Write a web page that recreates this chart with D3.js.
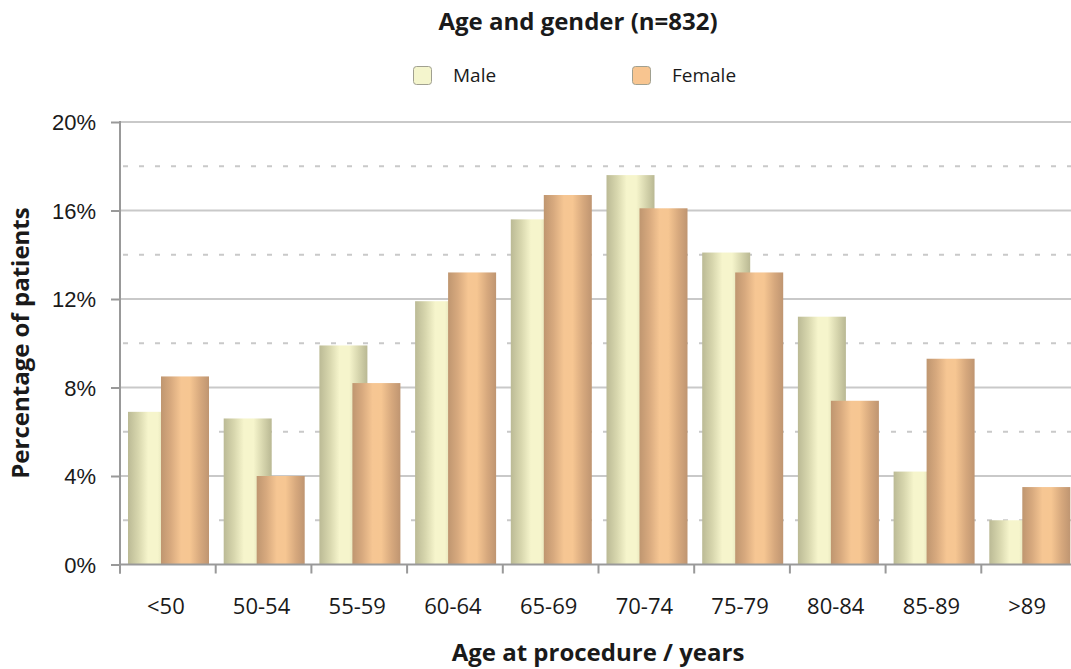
<!DOCTYPE html>
<html>
<head>
<meta charset="utf-8">
<script src="https://cdn.jsdelivr.net/npm/d3@7"></script>
<style>
  html, body { margin: 0; padding: 0; background: #fff; }
  svg { display: block; font-family: "Open Sans", "Noto Sans", sans-serif; }
</style>
</head>
<body>
<svg id="chart" width="1071" height="669"></svg>
<script>
// Age groups and share of patients (%) per gender
const categories = ["<50", "50-54", "55-59", "60-64", "65-69", "70-74", "75-79", "80-84", "85-89", ">89"];
const maleValues = [6.9, 6.6, 9.9, 11.9, 15.6, 17.6, 14.1, 11.2, 4.2, 2.0];
const femaleValues = [8.5, 4.0, 8.2, 13.2, 16.7, 16.1, 13.2, 7.4, 9.3, 3.5];
const seriesNames = ["Male", "Female"];
const yTicks = [0, 4, 8, 12, 16, 20];
const yMinorTicks = [2, 6, 10, 14, 18];

const W = 1071, H = 669;
const margin = { left: 120, top: 122, bottom: 104.5 };
const bandWidth = 95.7;
const plotRight = margin.left + bandWidth * categories.length;

const svg = d3.select("#chart");

const x = d3.scaleBand()
  .domain(categories)
  .range([margin.left, plotRight])
  .paddingInner(0).paddingOuter(0);

const y = d3.scaleLinear()
  .domain([0, 20])
  .range([H - margin.bottom, margin.top]);

// gradients for the cylinder-like bar shading
const defs = svg.append("defs");
function hGradient(id, stops) {
  const g = defs.append("linearGradient").attr("id", id)
    .attr("x1", "0%").attr("x2", "100%").attr("y1", "0%").attr("y2", "0%");
  stops.forEach(([o, c]) => g.append("stop").attr("offset", o).attr("stop-color", c));
}
hGradient("gradMale", [[0, "#bbba95"], [0.22, "#d8d7ae"], [0.42, "#f6f5cc"], [0.62, "#f6f5cc"], [0.82, "#d6d5ad"], [1, "#b9b893"]]);
hGradient("gradFemale", [[0, "#bf9670"], [0.2, "#d7a97e"], [0.42, "#f6c693"], [0.6, "#f6c692"], [0.82, "#d6a87d"], [1, "#bf9571"]]);

// dashed minor gridlines
svg.append("g")
  .selectAll("line")
  .data(yMinorTicks)
  .join("line")
  .attr("x1", margin.left + 1).attr("x2", W)
  .attr("y1", d => y(d)).attr("y2", d => y(d))
  .attr("stroke", "#c9c9c9").attr("stroke-width", 2)
  .attr("stroke-dasharray", "5,11").attr("stroke-dashoffset", 14);

// solid major gridlines
svg.append("g")
  .selectAll("line")
  .data(yTicks.filter(d => d > 0))
  .join("line")
  .attr("x1", margin.left).attr("x2", W)
  .attr("y1", d => y(d)).attr("y2", d => y(d))
  .attr("stroke", "#c9c9c9").attr("stroke-width", 2);

// bars: male drawn first, female overlapping on top
const barW = 48;
const bars = svg.append("g");
bars.selectAll("rect.male")
  .data(categories.map((c, i) => ({ c, v: maleValues[i] })))
  .join("rect")
  .attr("class", "male")
  .attr("x", d => x(d.c) + 8)
  .attr("width", barW)
  .attr("y", d => y(d.v))
  .attr("height", d => y(0) - y(d.v))
  .attr("fill", "url(#gradMale)");
bars.selectAll("rect.female")
  .data(categories.map((c, i) => ({ c, v: femaleValues[i] })))
  .join("rect")
  .attr("class", "female")
  .attr("x", d => x(d.c) + 41)
  .attr("width", barW)
  .attr("y", d => y(d.v))
  .attr("height", d => y(0) - y(d.v))
  .attr("fill", "url(#gradFemale)");

// y axis
const yAxis = d3.axisLeft(y)
  .tickValues(yTicks)
  .tickFormat(d => d + "%")
  .tickSize(9)
  .tickPadding(15);
const gy = svg.append("g")
  .attr("transform", `translate(${margin.left},0)`)
  .call(yAxis);
gy.select(".domain").remove();
gy.selectAll(".tick line").attr("stroke", "#999").attr("stroke-width", 2);
gy.selectAll(".tick text")
  .attr("font-size", 22).attr("fill", "#1a1a1a")
  .attr("dy", "0.36em");
gy.append("line")
  .attr("x1", 0).attr("x2", 0)
  .attr("y1", y(20) - 1).attr("y2", y(0) + 9)
  .attr("stroke", "#999").attr("stroke-width", 2);

// x axis: ticks at category boundaries
const gx = svg.append("g");
gx.append("line")
  .attr("x1", margin.left).attr("x2", W)
  .attr("y1", y(0)).attr("y2", y(0))
  .attr("stroke", "#999").attr("stroke-width", 2);
gx.selectAll("line.tick")
  .data(categories)
  .join("line")
  .attr("class", "tick")
  .attr("x1", d => x(d)).attr("x2", d => x(d))
  .attr("y1", y(0)).attr("y2", y(0) + 9)
  .attr("stroke", "#999").attr("stroke-width", 2);
gx.selectAll("text")
  .data(categories)
  .join("text")
  .attr("x", d => x(d) + x.bandwidth() / 2 - 2)
  .attr("y", 614)
  .attr("text-anchor", "middle")
  .attr("font-size", 22).attr("fill", "#1a1a1a")
  .text(d => d);

// titles
svg.append("text")
  .attr("x", 578).attr("y", 30)
  .attr("text-anchor", "middle")
  .attr("font-size", 24).attr("font-weight", "bold").attr("fill", "#1a1a1a")
  .text("Age and gender (n=832)");

svg.append("text")
  .attr("x", 598).attr("y", 661)
  .attr("text-anchor", "middle")
  .attr("font-size", 24).attr("font-weight", "bold").attr("fill", "#1a1a1a")
  .text("Age at procedure / years");

svg.append("text")
  .attr("transform", `translate(29,343) rotate(-90)`)
  .attr("text-anchor", "middle")
  .attr("font-size", 24).attr("font-weight", "bold").attr("fill", "#1a1a1a")
  .text("Percentage of patients");

// legend
const legendX = [413, 632];
const legendFill = ["#f4f5cd", "#f8c590"];
const legend = svg.append("g");
seriesNames.forEach((name, i) => {
  legend.append("rect")
    .attr("x", legendX[i] + 0.5).attr("y", 66.5)
    .attr("width", 18).attr("height", 18)
    .attr("rx", 3)
    .attr("fill", legendFill[i])
    .attr("stroke", "#a0a090").attr("stroke-width", 1);
  legend.append("text")
    .attr("x", legendX[i] + 40).attr("y", 82)
    .attr("font-size", 19).attr("fill", "#1a1a1a")
    .text(name);
});
</script>
</body>
</html>
